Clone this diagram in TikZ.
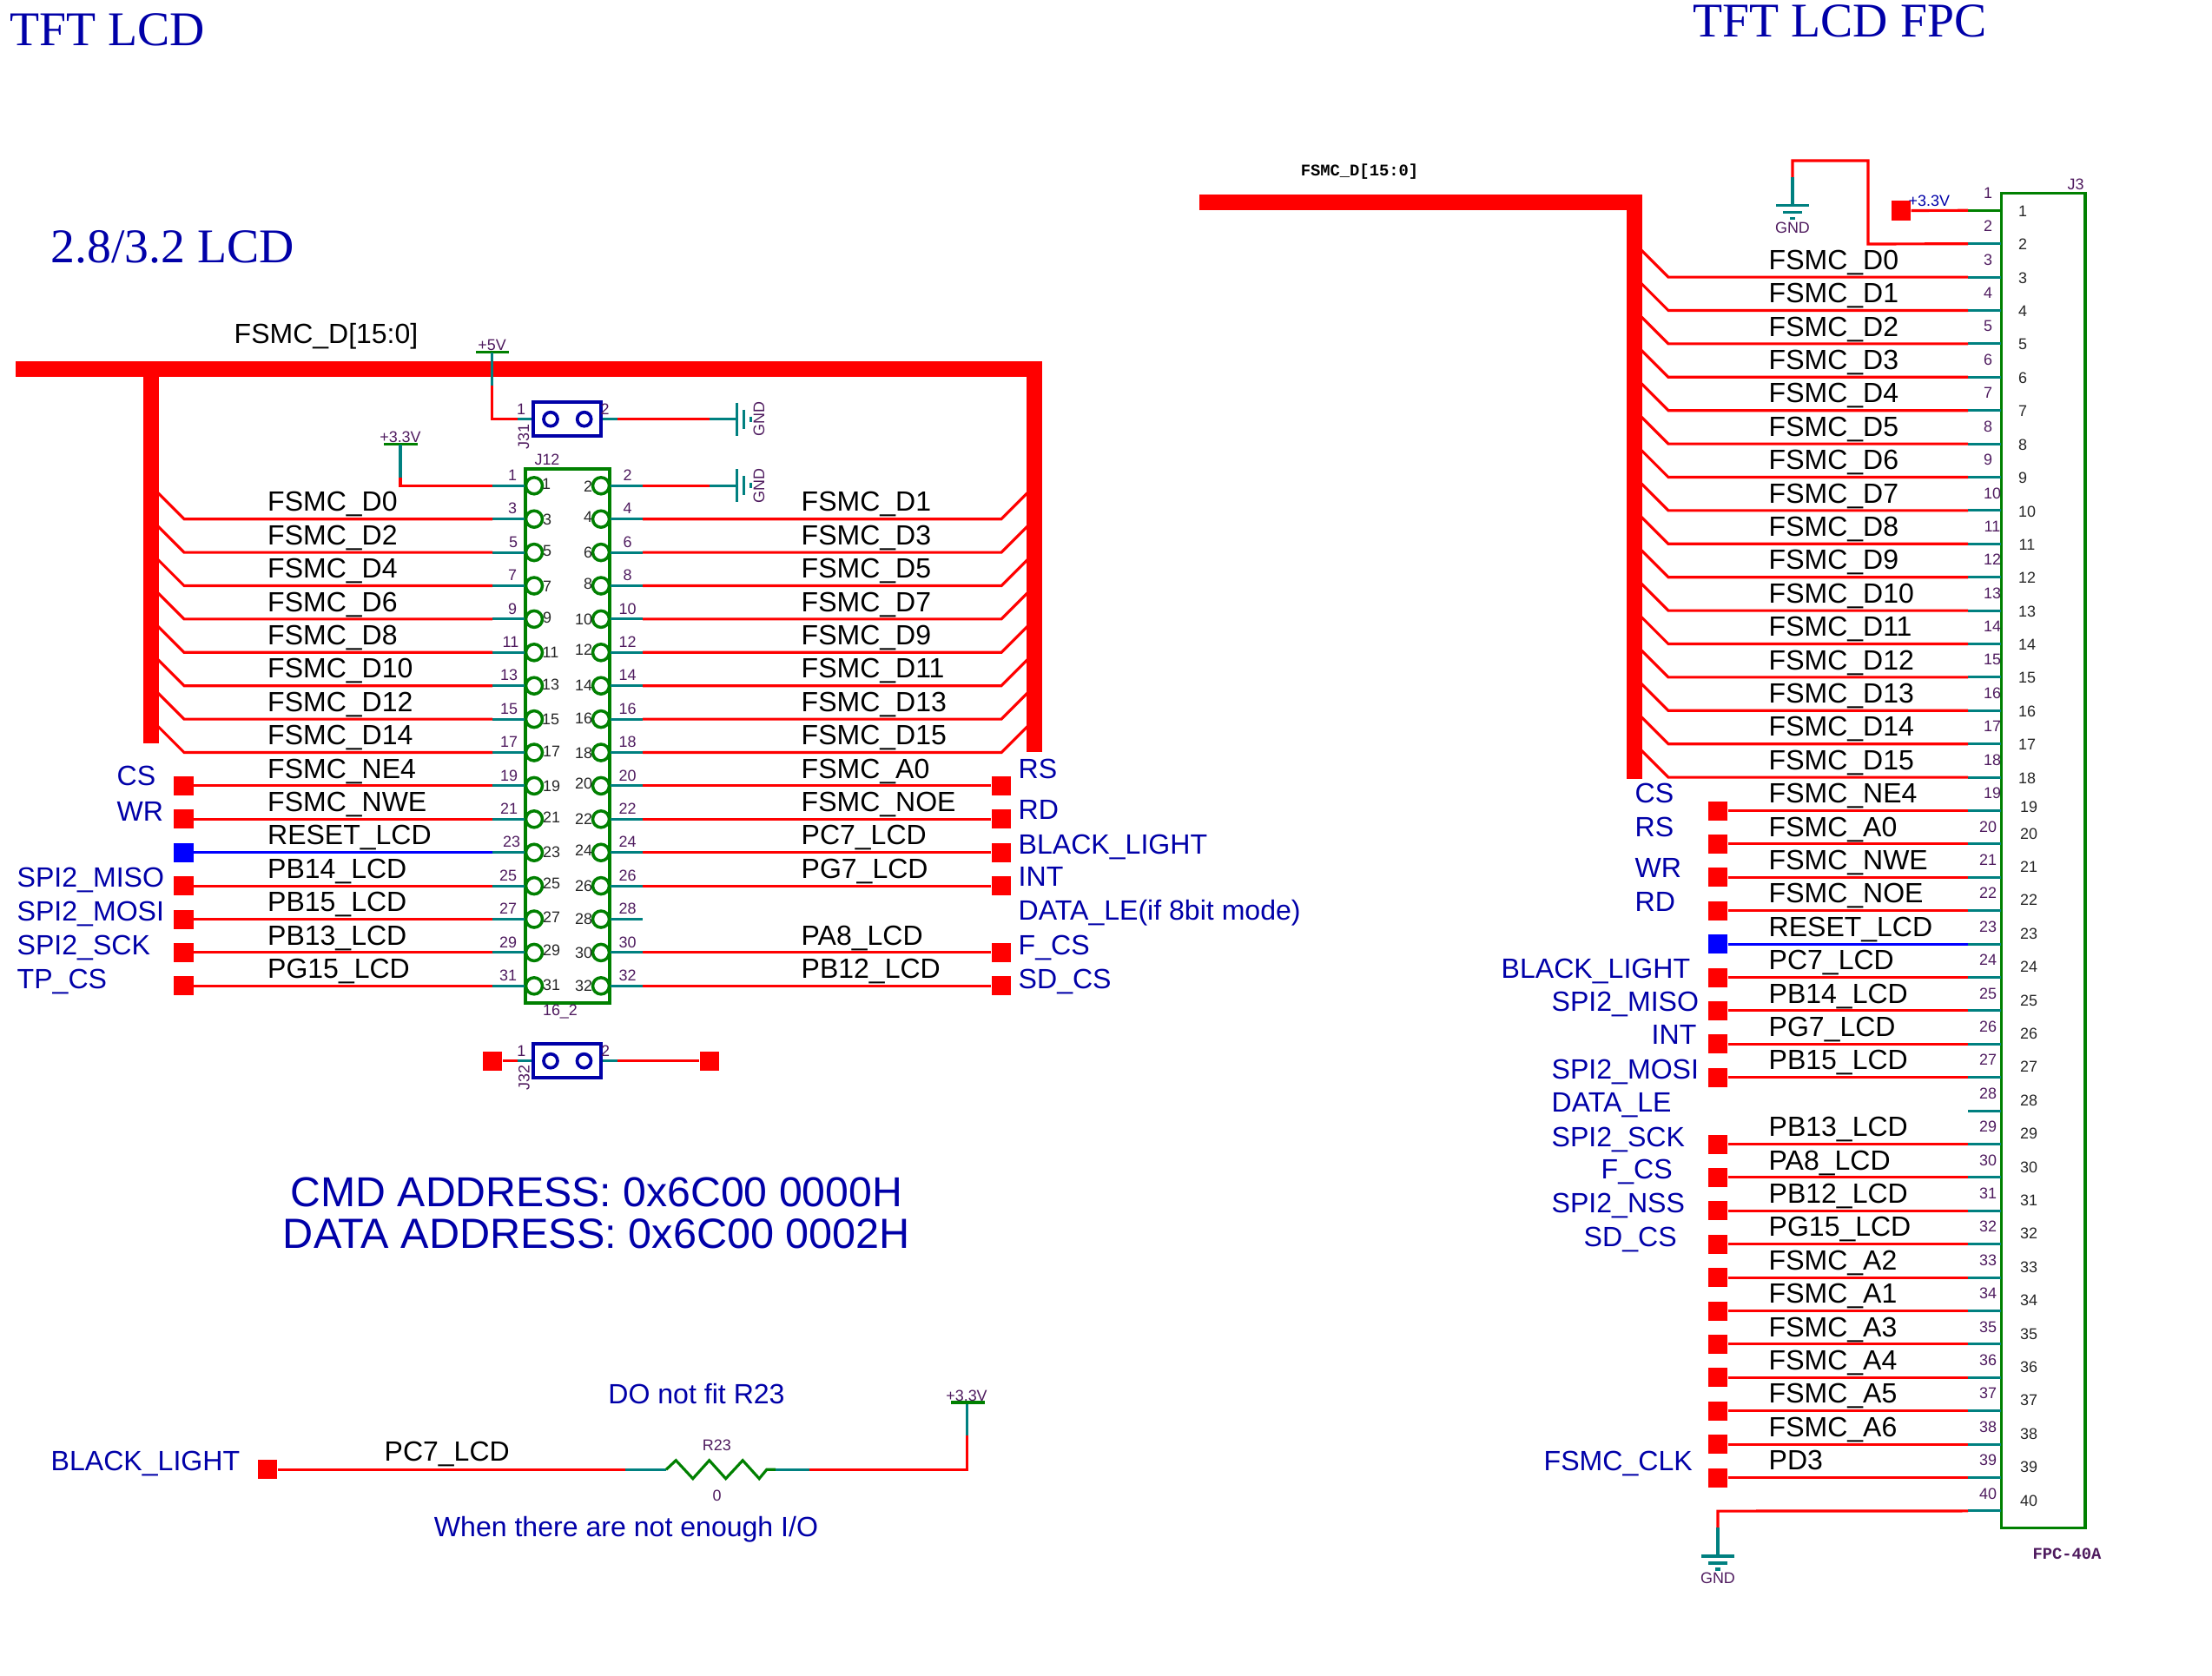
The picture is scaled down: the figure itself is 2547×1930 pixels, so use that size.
\documentclass[tikz,border=0pt]{standalone}
\usepackage{fontspec}
\setmainfont{Liberation Sans}
\newfontfamily\titlefont{Liberation Serif}
\newfontfamily\codefont{Liberation Mono}
\definecolor{netRed}{HTML}{FF0000}
\definecolor{netBlue}{HTML}{0000FF}
\definecolor{pinTeal}{HTML}{008080}
\definecolor{partGreen}{HTML}{008000}
\definecolor{noteBlue}{HTML}{0000A8}
\definecolor{partPurple}{HTML}{4E1A5E}
\tikzset{
  gndRight/.pic={
    \draw[stubDecorate] (0,-19) -- (0,19);
    \draw[stubDecorate] (8,-11) -- (8,11);
    \draw[stubDecorate] (16,-3) -- (16,3);
  },
  gndDown/.pic={
    \draw[stubDecorate] (-19,0) -- (19,0);
    \draw[stubDecorate] (-11,8) -- (11,8);
    \draw[stubDecorate] (-3,15) -- (3,15);
  }
}
\begin{document}
\begin{tikzpicture}
[x=0.01cm,y=-0.01cm,%
  wireDecorate/.style={-,draw=netRed,line width=0.9pt},%
  resetDecorate/.style={-,draw=netBlue,line width=0.9pt},%
  stubDecorate/.style={-,draw=pinTeal,line width=0.9pt},%
  greenDecorate/.style={-,draw=partGreen,line width=0.9pt},%
  busDecorate/.style={-,draw=netRed,line width=5pt},%
  pinDecorate/.style={shape=circle,minimum size=0.19cm,inner sep=0pt,draw=partGreen,line width=1pt},%
  holeDecorate/.style={shape=circle,minimum size=0.16cm,inner sep=0pt,draw=noteBlue,line width=1.05pt},%
  jumperDecorate/.style={shape=rectangle,minimum width=0.78cm,minimum height=0.39cm,inner sep=0pt,draw=noteBlue,line width=1.05pt},%
  headerDecorate/.style={shape=rectangle,inner sep=0pt,draw=partGreen,line width=1pt},%
  padDecorate/.style={shape=rectangle,minimum size=0.22cm,inner sep=0pt,fill=netRed},%
  resetPad/.style={padDecorate,fill=netBlue},%
  netText/.style={anchor=base west,inner sep=0pt,font=\fontsize{9.1}{10}\selectfont},%
  noteText/.style={anchor=base west,inner sep=0pt,text=noteBlue,font=\fontsize{9.12}{10}\selectfont},%
  bigNote/.style={inner sep=0pt,text=noteBlue,font=\fontsize{13.7}{15}\selectfont},%
  titleText/.style={anchor=west,inner sep=0pt,text=noteBlue,font=\titlefont\fontsize{15.85}{18}\selectfont},%
  partText/.style={inner sep=0pt,text=partPurple,font=\fontsize{5.1}{6}\selectfont},%
  innerText/.style={inner sep=0pt,text=black!85,font=\fontsize{5.1}{6}\selectfont},%
  codeText/.style={inner sep=0pt,font=\codefont\bfseries\fontsize{5.35}{6}\selectfont}]
\useasboundingbox (0,0) rectangle (2547,1930);

%% titles and notes
\node (titleLcd) at (11,34) [titleText] {TFT LCD};
\node (titleFpc) at (1949,24) [titleText] {TFT LCD FPC};
\node (titleSize) at (58,284) [titleText] {2.8/3.2 LCD};
\node (cmdNote) at (687,1373) [bigNote] {CMD ADDRESS: 0x6C00 0000H};
\node (dataNote) at (687,1421) [bigNote,font=\fontsize{13.82}{15}\selectfont] {DATA ADDRESS: 0x6C00 0002H};
\node (busLabel) at (269,395.5) [netText] {FSMC\_D[15:0]};
\node (busCode) at (1565.5,198) [codeText] {FSMC\_D[15:0]};

%% left data bus
\coordinate (busA) at (18,425);
\coordinate (busB) at (1191,425);
\coordinate (busC) at (1191,866);
\coordinate (busD) at (174,425);
\coordinate (busE) at (174,856);
\draw[busDecorate] (busA) -- (busB) -- (busC);
\draw[busDecorate] (busD) -- (busE);

%% J12 header
\node (J12) at (653.5,847.5) [headerDecorate,minimum width=0.97cm,minimum height=6.15cm] {};
\node (J12name) at (630,529) [partText] {J12};
\node (J12value) at (645,1165) [partText] {16\_2};

%% J12 odd pins
\foreach \n/\row/\ox/\ix/\dy in {
  1/0/590/629/-2, 3/1/590/630/1, 5/2/591/630/-2, 7/3/590/630/0.5,
  9/4/590/630/-2, 11/5/588/634/0, 13/6/586/634/-1.7, 15/7/586/634/0,
  17/8/586/635/-1.5, 19/9/586/635/0.5, 21/10/586/635/-2, 23/11/589/635/0,
  25/12/585/635/-3, 27/13/585/635/-2.5, 29/14/585/635/-2.5, 31/15/585/635/-1}
{
  \node (odd\n) at (615,{559.3+38.4*\row}) [pinDecorate] {};
  \coordinate (oddEnd\n) at (567,{559.3+38.4*\row});
  \node (oddOut\n) at (\ox,{547.3+38.4*\row}) [partText] {\n};
  \node (oddIn\n) at (\ix,{559.3+38.4*\row+\dy}) [innerText] {\n};
  \draw[stubDecorate] (oddEnd\n) -- (odd\n);
}

%% J12 even pins
\foreach \n/\row/\ix/\dy in {
  2/0/677/0.7, 4/1/677/-2, 6/2/677/0, 8/3/677/-2,
  10/4/672/0, 12/5/672/-2.7, 14/6/672/0, 16/7/672/-1,
  18/8/672/1, 20/9/672/-2.3, 22/10/672/0, 24/11/672/-2.7,
  26/12/672/0.3, 28/13/672/0, 30/14/672/0, 32/15/672/0}
{
  \node (even\n) at (692,{559.3+38.4*\row}) [pinDecorate] {};
  \coordinate (evenEnd\n) at (740,{559.3+38.4*\row});
  \node (evenOut\n) at (722.5,{547.3+38.4*\row}) [partText] {\n};
  \node (evenIn\n) at (\ix,{559.3+38.4*\row+\dy}) [innerText] {\n};
  \draw[stubDecorate] (even\n) -- (evenEnd\n);
}

%% J12 nets into the bus
\foreach \n/\row/\net in {
  3/1/FSMC\_D0, 5/2/FSMC\_D2, 7/3/FSMC\_D4, 9/4/FSMC\_D6,
  11/5/FSMC\_D8, 13/6/FSMC\_D10, 15/7/FSMC\_D12, 17/8/FSMC\_D14}
{
  \coordinate (oddBus\n) at (182,{529.3+38.4*\row});
  \coordinate (oddBend\n) at (212,{559.3+38.4*\row});
  \node (oddNet\n) at (307.5,{550.5+38.4*\row}) [netText] {\net};
  \draw[wireDecorate] (oddBus\n) -- (oddBend\n) -- (oddEnd\n);
}
\foreach \n/\row/\net in {
  4/1/FSMC\_D1, 6/2/FSMC\_D3, 8/3/FSMC\_D5, 10/4/FSMC\_D7,
  12/5/FSMC\_D9, 14/6/FSMC\_D11, 16/7/FSMC\_D13, 18/8/FSMC\_D15}
{
  \coordinate (evenBus\n) at (1183,{529.3+38.4*\row});
  \coordinate (evenBend\n) at (1153,{559.3+38.4*\row});
  \node (evenNet\n) at (922,{550.5+38.4*\row}) [netText] {\net};
  \draw[wireDecorate] (evenEnd\n) -- (evenBend\n) -- (evenBus\n);
}

%% J12 nets ending on a pad
\foreach \n/\row/\net/\padstyle/\wirestyle in {
  19/9/FSMC\_NE4/padDecorate/wireDecorate, 21/10/FSMC\_NWE/padDecorate/wireDecorate,
  23/11/RESET\_LCD/resetPad/resetDecorate, 25/12/PB14\_LCD/padDecorate/wireDecorate,
  27/13/PB15\_LCD/padDecorate/wireDecorate, 29/14/PB13\_LCD/padDecorate/wireDecorate,
  31/15/PG15\_LCD/padDecorate/wireDecorate}
{
  \node (oddPad\n) at (211.5,{559.3+38.4*\row}) [\padstyle] {};
  \node (oddNet\n) at (307.5,{550.5+38.4*\row}) [netText] {\net};
  \draw[\wirestyle] (oddPad\n) -- (oddEnd\n);
}
\foreach \n/\row/\net in {
  20/9/FSMC\_A0, 22/10/FSMC\_NOE, 24/11/PC7\_LCD,
  26/12/PG7\_LCD, 30/14/PA8\_LCD, 32/15/PB12\_LCD}
{
  \node (evenPad\n) at (1152.6,{559.3+38.4*\row}) [padDecorate] {};
  \node (evenNet\n) at (922,{550.5+38.4*\row}) [netText] {\net};
  \draw[wireDecorate] (evenEnd\n) -- (evenPad\n);
}

%% J12 power
\coordinate (vddA) at (461,511.7);
\coordinate (vddB) at (461,550);
\coordinate (vddC) at (461,559.3);
\node (vddName) at (461,503) [partText] {+3.3V};
\draw[greenDecorate] (442,511.7) -- (481,511.7);
\draw[stubDecorate] (vddA) -- (vddB);
\draw[wireDecorate] (vddB) -- (vddC) -- (oddEnd1);
\coordinate (gndA) at (816.7,559.3);
\coordinate (gndB) at (848.3,559.3);
\draw[wireDecorate] (evenEnd2) -- (gndA);
\draw[stubDecorate] (gndA) -- (gndB);
\pic at (gndB) {gndRight};
\node (gndName) at (874,559.3) [partText,rotate=90] {GND};

%% J31 jumper
\node (J31) at (653.3,482.7) [jumperDecorate] {};
\node (J31a) at (634,482.7) [holeDecorate] {};
\node (J31b) at (672.7,482.7) [holeDecorate] {};
\node (J31one) at (600,471) [partText] {1};
\node (J31two) at (696.7,471) [partText] {2};
\node (J31name) at (603,503) [partText,rotate=90] {J31};
\coordinate (fiveA) at (566.7,405.7);
\coordinate (fiveB) at (566.7,444);
\coordinate (fiveC) at (566.7,482.7);
\coordinate (fiveD) at (595.7,482.7);
\node (fiveName) at (566.7,397) [partText] {+5V};
\draw[greenDecorate] (548,405.7) -- (586,405.7);
\draw[stubDecorate] (fiveA) -- (fiveB);
\draw[wireDecorate] (fiveB) -- (fiveC) -- (fiveD);
\draw[stubDecorate] (fiveD) -- (J31.west);
\coordinate (jumpA) at (711,482.7);
\coordinate (jumpB) at (816.7,482.7);
\coordinate (jumpC) at (848.3,482.7);
\draw[stubDecorate] (J31.east) -- (jumpA);
\draw[wireDecorate] (jumpA) -- (jumpB);
\draw[stubDecorate] (jumpB) -- (jumpC);
\pic at (jumpC) {gndRight};
\node (jumpName) at (874,482.7) [partText,rotate=90] {GND};

%% J32 jumper
\node (J32) at (653.3,1221.7) [jumperDecorate] {};
\node (J32a) at (634,1221.7) [holeDecorate] {};
\node (J32b) at (672.5,1221.7) [holeDecorate] {};
\node (J32one) at (600.4,1210) [partText] {1};
\node (J32two) at (697,1210) [partText] {2};
\node (J32name) at (603.5,1241) [partText,rotate=90] {J32};
\node (J32left) at (567,1221.7) [padDecorate] {};
\node (J32right) at (816.6,1221.7) [padDecorate] {};
\coordinate (J32c) at (596,1221.7);
\coordinate (J32d) at (711,1221.7);
\draw[wireDecorate] (J32left) -- (J32c);
\draw[stubDecorate] (J32c) -- (J32.west);
\draw[stubDecorate] (J32.east) -- (J32d);
\draw[wireDecorate] (J32d) -- (J32right);

%% blue names beside the left header
\foreach \name/\x/\y/\label in {
  cs/134/904/CS, wr/134/945/WR, miso/19/1021/SPI2\_MISO, mosi/19/1060/SPI2\_MOSI,
  sck/19/1099/SPI2\_SCK, tp/19/1138/TP\_CS, rs/1172/896/RS, rd/1172/943/RD,
  light/1172/983/BLACK\_LIGHT, int/1172/1020/INT,
  le/1172/1059/DATA\_LE(if 8bit mode), fcs/1172/1099/F\_CS, sd/1172/1138/SD\_CS,
  lightb/58/1693/BLACK\_LIGHT}
{
  \node (\name Note) at (\x,\y) [noteText] {\label};
}

%% R23 branch
\node (lightPad) at (308,1692.3) [padDecorate] {};
\node (pcNet) at (442,1682.7) [netText] {PC7\_LCD};
\coordinate (rA) at (720,1692.3);
\coordinate (rB) at (767,1692.3);
\coordinate (rC) at (893,1692.3);
\coordinate (rD) at (931.6,1692.3);
\coordinate (rE) at (1113.5,1692.3);
\coordinate (rF) at (1113.5,1653);
\coordinate (rG) at (1113.5,1615);
\draw[wireDecorate] (lightPad) -- (rA);
\draw[stubDecorate] (rA) -- (rB);
\draw[greenDecorate] (rB) -- (778.3,1681.7) -- (797.8,1702.7) -- (816.7,1681.7) -- (835.7,1702.7) -- (855.2,1681.7) -- (874.2,1702.7) -- (882.8,1692.3) -- (rC);
\draw[stubDecorate] (rC) -- (rD);
\draw[wireDecorate] (rD) -- (rE) -- (rF);
\draw[stubDecorate] (rF) -- (rG);
\draw[greenDecorate] (1095,1615) -- (1133.6,1615);
\node (rVdd) at (1113,1607) [partText] {+3.3V};
\node (rName) at (825.4,1664.3) [partText] {R23};
\node (rValue) at (825.5,1722) [partText] {0};
\node (fitNote) at (802,1605) [noteText,anchor=center] {DO not fit R23};
\node (ioNote) at (721,1761) [noteText,anchor=center] {When there are not enough I/O};

%% right data bus
\coordinate (rbusA) at (1381,233);
\coordinate (rbusB) at (1882,233);
\coordinate (rbusC) at (1882,897);
\draw[busDecorate] (rbusA) -- (rbusB) -- (rbusC);

%% J3 connector
\node (J3) at (2352.7,991) [headerDecorate,minimum width=0.966cm,minimum height=15.36cm] {};
\node (J3name) at (2390,212) [partText] {J3};
\node (J3value) at (2380,1789) [codeText,text=partPurple] {FPC-40A};
\foreach \first/\last/\ox/\ix/\dy in {
  1/9/2289/2329/1, 10/18/2294/2334/1, 19/19/2294/2336/-4, 20/40/2289/2336/-12}
{
  \foreach \n in {\first,...,\last}
  {
    \coordinate (fpc\n) at (2304.4,{242.3+38.4*(\n-1)});
    \coordinate (fpcEnd\n) at (2266,{242.3+38.4*(\n-1)});
    \node (fpcOut\n) at (\ox,{222.3+38.4*(\n-1)}) [partText] {\n};
    \node (fpcIn\n) at (\ix,{242.3+38.4*(\n-1)+\dy}) [innerText] {\n};
  }
}
\path
\foreach \n in {2,...,40}
{
  (fpcEnd\n) edge[stubDecorate] (fpc\n)
};
\draw[greenDecorate] (fpcEnd1) -- (fpc1);

%% J3 nets into the bus
\foreach \n/\net in {
  3/FSMC\_D0, 4/FSMC\_D1, 5/FSMC\_D2, 6/FSMC\_D3, 7/FSMC\_D4, 8/FSMC\_D5,
  9/FSMC\_D6, 10/FSMC\_D7, 11/FSMC\_D8, 12/FSMC\_D9, 13/FSMC\_D10, 14/FSMC\_D11,
  15/FSMC\_D12, 16/FSMC\_D13, 17/FSMC\_D14, 18/FSMC\_D15}
{
  \coordinate (fpcBus\n) at (1890,{211.3+38.4*(\n-1)});
  \coordinate (fpcBend\n) at (1921,{242.3+38.4*(\n-1)});
  \node (fpcNet\n) at (2036,{233.5+38.4*(\n-1)}) [netText] {\net};
  \draw[wireDecorate] (fpcBus\n) -- (fpcBend\n) -- (fpcEnd\n);
}

%% J3 nets ending on a pad
\foreach \n/\net/\padstyle/\wirestyle in {
  19/FSMC\_NE4/padDecorate/wireDecorate, 20/FSMC\_A0/padDecorate/wireDecorate,
  21/FSMC\_NWE/padDecorate/wireDecorate, 22/FSMC\_NOE/padDecorate/wireDecorate,
  23/RESET\_LCD/resetPad/resetDecorate, 24/PC7\_LCD/padDecorate/wireDecorate,
  25/PB14\_LCD/padDecorate/wireDecorate, 26/PG7\_LCD/padDecorate/wireDecorate,
  27/PB15\_LCD/padDecorate/wireDecorate, 29/PB13\_LCD/padDecorate/wireDecorate,
  30/PA8\_LCD/padDecorate/wireDecorate, 31/PB12\_LCD/padDecorate/wireDecorate,
  32/PG15\_LCD/padDecorate/wireDecorate, 33/FSMC\_A2/padDecorate/wireDecorate,
  34/FSMC\_A1/padDecorate/wireDecorate, 35/FSMC\_A3/padDecorate/wireDecorate,
  36/FSMC\_A4/padDecorate/wireDecorate, 37/FSMC\_A5/padDecorate/wireDecorate,
  38/FSMC\_A6/padDecorate/wireDecorate, 39/PD3/padDecorate/wireDecorate}
{
  \node (fpcPad\n) at (1978,{242.3+38.4*(\n-1)}) [\padstyle] {};
  \node (fpcNet\n) at (2036,{233.5+38.4*(\n-1)}) [netText] {\net};
  \draw[\wirestyle] (fpcPad\n) -- (fpcEnd\n);
}

%% J3 power pins
\node (vddPad) at (2189,242.5) [padDecorate] {};
\node (vddNote) at (2197,231) [partText,anchor=west,text=noteBlue] {+3.3V};
\draw[wireDecorate] (vddPad) -- (fpcEnd1);
\coordinate (topA) at (2151,281);
\coordinate (topB) at (2151,185);
\coordinate (topC) at (2064,185);
\coordinate (topD) at (2064,204);
\coordinate (topE) at (2064,236.7);
\draw[wireDecorate] (fpcEnd2) -- (topA) -- (topB) -- (topC) -- (topD);
\draw[stubDecorate] (topD) -- (topE);
\pic at (topE) {gndDown};
\node (topName) at (2064,262.3) [partText] {GND};
\coordinate (lowA) at (1978,1740.1);
\coordinate (lowB) at (1978,1759);
\coordinate (lowC) at (1978,1792);
\draw[wireDecorate] (fpcEnd40) -- (lowA) -- (lowB);
\draw[stubDecorate] (lowB) -- (lowC);
\pic at (lowC) {gndDown};
\node (lowName) at (1978,1817) [partText] {GND};

%% blue names beside J3
\foreach \name/\x/\y/\label in {
  fcs/1882/924/CS, frs/1882/963/RS, fwr/1882/1010/WR, frd/1882/1049/RD,
  flight/1728/1126/BLACK\_LIGHT, fmiso/1786/1164/SPI2\_MISO, fint/1901/1202/INT,
  fmosi/1786/1242/SPI2\_MOSI, fle/1786/1280/DATA\_LE, fsck/1786/1320/SPI2\_SCK,
  ffcs/1843/1357/F\_CS, fnss/1786/1396/SPI2\_NSS, fsd/1823/1435/SD\_CS,
  fclk/1777/1693/FSMC\_CLK}
{
  \node (\name Note) at (\x,\y) [noteText] {\label};
}
\end{tikzpicture}
\end{document}
